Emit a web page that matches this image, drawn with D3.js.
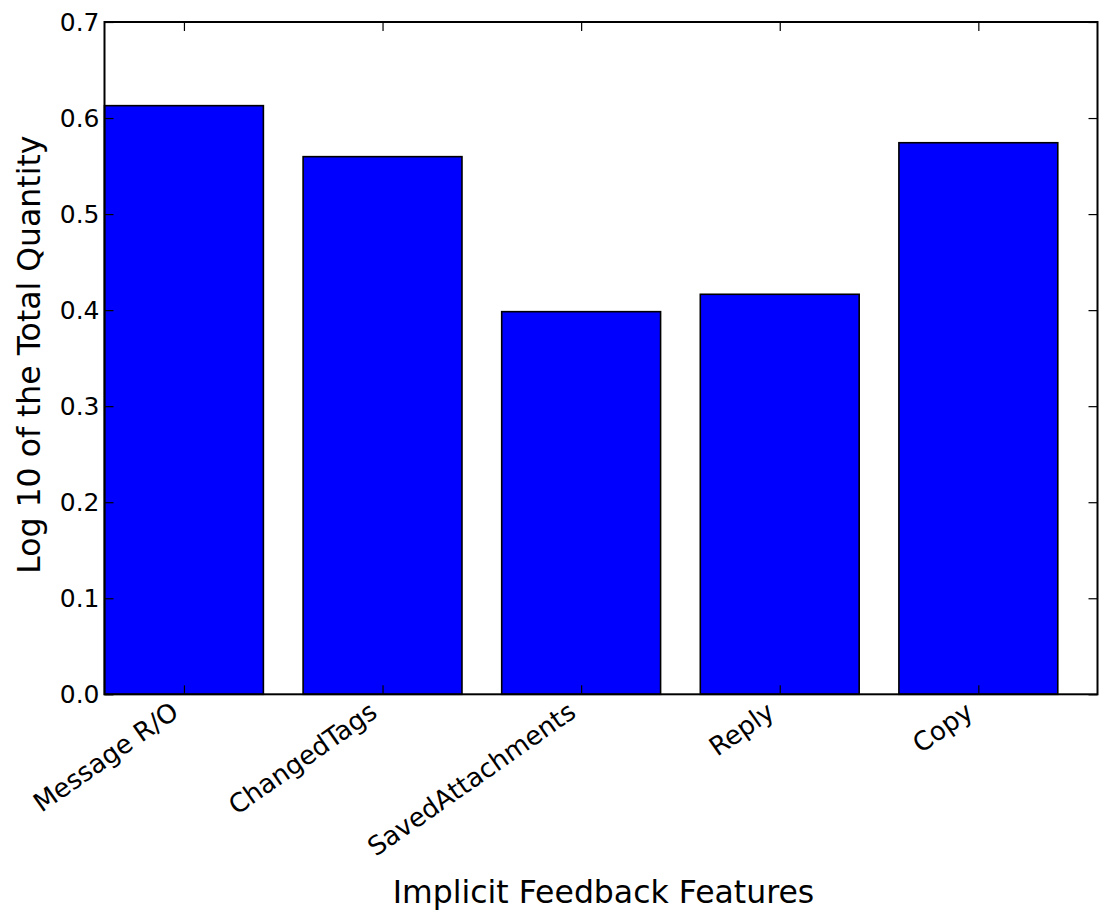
<!DOCTYPE html>
<html>
<head>
<meta charset="utf-8">
<script src="https://cdn.jsdelivr.net/npm/d3@7"></script>
<style>
  html, body { margin: 0; padding: 0; background: #fff; }
  svg text { font-family: "DejaVu Sans", sans-serif; fill: #000; }
</style>
</head>
<body>
<svg id="chart" width="1102" height="913"></svg>
<script>
// Feature names and their log10 totals
const categories = ["Message R/O", "ChangedTags", "SavedAttachments", "Reply", "Copy"];
const values = [0.6129, 0.5598, 0.3984, 0.4165, 0.5743];
const yTicks = [0.0, 0.1, 0.2, 0.3, 0.4, 0.5, 0.6, 0.7];

const svg = d3.select("#chart");
const plotLeft = 104.5, plotRight = 1097.5, plotTop = 22, plotBottom = 694.3;

// Bars sit at integer positions with width 0.8; x domain covers [0, 5]
const x = d3.scaleLinear().domain([0, categories.length]).range([plotLeft, plotRight]);
const y = d3.scaleLinear().domain([0, 0.7]).range([plotBottom, plotTop]);
const barW = 0.8;

// Bars
svg.append("g").selectAll("rect")
  .data(values)
  .join("rect")
  .attr("x", (d, i) => x(i))
  .attr("y", d => y(d))
  .attr("width", (d, i) => x(i + barW) - x(i))
  .attr("height", d => y(0) - y(d))
  .attr("fill", "#0000ff")
  .attr("stroke", "#000")
  .attr("stroke-width", 1.6);

const tickLen = 9;
const centers = categories.map((c, i) => i + barW / 2);

// Inward ticks on all four sides
const xb = d3.axisBottom(x).tickValues(centers).tickSize(-tickLen).tickFormat("");
const xt = d3.axisTop(x).tickValues(centers).tickSize(-tickLen).tickFormat("");
const yl = d3.axisLeft(y).tickValues(yTicks).tickSize(-tickLen).tickFormat(d3.format(".1f")).tickPadding(5);
const yr = d3.axisRight(y).tickValues(yTicks).tickSize(-tickLen).tickFormat("");

function styleAxis(g) {
  g.select(".domain").remove();
  g.selectAll(".tick line").attr("stroke", "#000").attr("stroke-width", 1.2);
}

svg.append("g").attr("transform", `translate(0,${plotBottom})`).call(xb).call(styleAxis);
svg.append("g").attr("transform", `translate(0,${plotTop})`).call(xt).call(styleAxis);
const gyl = svg.append("g").attr("transform", `translate(${plotLeft},0)`).call(yl).call(styleAxis);
gyl.selectAll(".tick text").attr("font-size", 25).attr("font-family", "DejaVu Sans").attr("dy", "0.32em");
svg.append("g").attr("transform", `translate(${plotRight},0)`).call(yr).call(styleAxis);

// Frame
svg.append("rect")
  .attr("x", plotLeft).attr("y", plotTop)
  .attr("width", plotRight - plotLeft).attr("height", plotBottom - plotTop)
  .attr("fill", "none").attr("stroke", "#000").attr("stroke-width", 2);

// Rotated category labels, right end anchored under each tick
svg.append("g").selectAll("text")
  .data(categories)
  .join("text")
  .attr("font-size", 26)
  .attr("text-anchor", "end")
  .attr("transform", (d, i) => `translate(${x(centers[i]) - 3.6},${plotBottom + 21.5}) rotate(-35)`)
  .text(d => d);

// Axis titles
svg.append("text")
  .attr("x", (plotLeft + plotRight) / 2 + 2.5).attr("y", 903)
  .attr("text-anchor", "middle")
  .attr("font-size", 31.5)
  .text("Implicit Feedback Features");

svg.append("text")
  .attr("transform", `translate(40,${(plotTop + plotBottom) / 2 - 3.5}) rotate(-90)`)
  .attr("text-anchor", "middle")
  .attr("font-size", 31.5)
  .text("Log 10 of the Total Quantity");
</script>
</body>
</html>
